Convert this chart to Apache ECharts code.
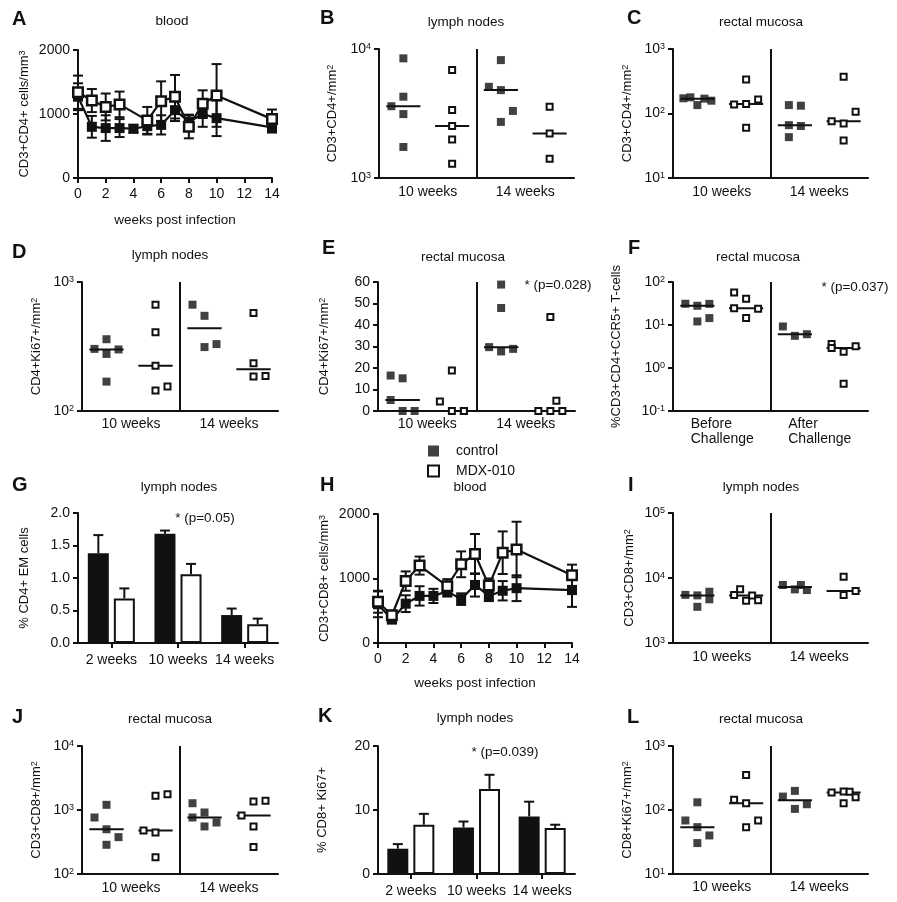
<!DOCTYPE html>
<html><head><meta charset="utf-8">
<script src="https://cdn.jsdelivr.net/npm/echarts@6/dist/echarts.min.js"></script>
<style>html,body{margin:0;padding:0;background:#fff}#c{width:897px;height:902px}</style>
</head><body><div id="c"></div>
<script>
// ---------------- DATA ----------------
// A & H : time courses
const weeks = [0, 1, 2, 3, 4, 5, 6, 7, 8, 9, 10, 14];
const aControl = [1270, 800, 780, 780, 770, 810, 830, 1060, 880, 1000, 935, 790];
const aControlErr = [210, 170, 200, 140, 60, 130, 150, 170, 110, 200, 280, 80];
const aMDX = [1340, 1210, 1110, 1150, null, 900, 1200, 1270, 800, 1160, 1290, 920];
const aMDXErr = [260, 180, 210, 200, null, 210, 310, 340, 180, 210, 490, 150];
const hControl = [600, 365, 610, 730, 730, 800, 680, 900, 730, 810, 850, 820];
const hControlErr = [200, 60, 130, 150, 110, 80, 90, 180, 80, 150, 200, 260];
const hMDX = [640, 430, 960, 1200, null, 880, 1220, 1380, 890, 1400, 1450, 1050];
const hMDXErr = [170, 70, 150, 140, null, 110, 200, 310, 110, 330, 430, 165];

// G & K : bars
const barCats = ['2 weeks', '10 weeks', '14 weeks'];
const gControl = [1.38, 1.68, 0.43];
const gControlErr = [0.28, 0.05, 0.10];
const gMDX = [0.685, 1.057, 0.29];
const gMDXErr = [0.155, 0.16, 0.085];
const kControl = [3.95, 7.27, 9.0];
const kControlErr = [0.72, 0.93, 2.3];
const kMDX = [7.7, 13.3, 7.17];
const kMDXErr = [1.7, 2.2, 0.53];

// scatter panels: values per group (control 10w, MDX 10w, control 14w, MDX 14w)
const weekLabels = ['10 weeks', '14 weeks'];
const challengeLabels = ['Before', 'After'];
const bCtrl10 = [8460, 4270, 3600, 3130, 1740];
const bMDX10 = [6870, 3360, 2535, 1985, 1290];
const bCtrl14 = [8200, 5090, 4800, 3310, 2720];
const bMDX14 = [3565, 2210, 1410];
const cCtrl10 = [172, 178, 135, 170, 158];
const cMDX10 = [337, 138, 140, 165, 60];
const cCtrl14 = [135, 132, 66, 64, 43];
const cMDX14 = [372, 106, 76, 70, 38];
const dCtrl10 = [360, 303, 300, 277, 169];
const dMDX10 = [667, 408, 224, 144, 155];
const dCtrl14 = [667, 547, 313, 330];
const dMDX14 = [574, 235, 185, 187];
const eCtrl10 = [16.5, 15.2, 5.1, 0, 0];
const eMDX10 = [18.8, 4.4, 0, 0, 0];
const eCtrl14 = [58.8, 47.9, 29.7, 27.7, 28.9];
const eMDX14 = [43.7, 0, 0, 4.8, 0];
const fCtrlBefore = [31.2, 28, 31, 12.1, 14.5];
const fMDXBefore = [57, 40.8, 24.5, 23.9, 14.5];
const fCtrlAfter = [9.25, 5.6, 6.1];
const fMDXAfter = [3.6, 2.9, 2.4, 3.2, 0.43];
const iCtrl10 = [5500, 5400, 3600, 6150, 4700];
const iMDX10 = [5500, 6700, 4450, 5400, 4550];
const iCtrl14 = [7800, 6680, 7800, 6520];
const iMDX14 = [10480, 5460, 6300];
const jCtrl10 = [1205, 764, 500, 286, 377];
const jMDX10 = [1663, 1766, 480, 446, 182];
const jCtrl14 = [1276, 914, 764, 553, 638];
const jMDX14 = [1355, 1400, 821, 553, 264];
const lCtrl10 = [132, 68.6, 54, 40, 30.4];
const lMDX10 = [353, 144, 128, 54, 68.6];
const lCtrl14 = [162, 199, 104, 123];
const lMDX14 = [187, 195, 192, 128, 158];

// horizontal spread of overlapping points (pixels, layout only)
const J = {
  b: [[0, 0, -12, 0, 0], [0, 0, 0, 0, 0], [0, -12, 0, 12, 0], [0, 0, 0]],
  c: [[-14, -7, 0, 7, 14], [0, -12, 0, 12, 0], [-6, 6, -6, 6, -6], [0, 12, -12, 0, 0]],
  d: [[0, -12, 12, 0, 0], [0, 0, 0, 0, 12], [-12, 0, 0, 12], [0, 0, 0, 12]],
  e: [[-12, 0, -12, 0, 12], [0, -12, 0, 12, 12], [0, 0, -12, 0, 12], [0, -12, 0, 6, 12]],
  f: [[-12, 0, 12, 0, 12], [-12, 0, -12, 12, 0], [-12, 0, 12], [-12, -12, 0, 12, 0]],
  i: [[-12, 0, 0, 12, 12], [-12, -6, 0, 6, 12], [-12, 0, 6, 12], [0, 0, 12]],
  j: [[0, -12, 0, 0, 12], [0, 12, -12, 0, 0], [-12, 0, -12, 0, 12], [0, 12, -12, 0, 0]],
  l: [[0, -12, 0, 12, 0], [0, -12, 0, 0, 12], [-12, 0, 0, 12], [-12, 0, 6, 0, 12]]
};

// ---------------- BUILD ----------------
const FONT = "'Liberation Sans', Arial, Helvetica, sans-serif";
const INK = '#111';
const grids = [], xAxis = [], yAxis = [], series = [], graphic = [];

const axisLine = {show: true, onZero: false, lineStyle: {color: INK, width: 2}};
const axisTick = {show: true, length: 5, lineStyle: {color: INK, width: 2}};
const supRich = {
  b: {fontSize: 14, fontFamily: FONT, color: INK},
  s: {fontSize: 9, fontFamily: FONT, color: INK, verticalAlign: 'top'}
};
const nameRich = {
  s: {fontSize: 9, fontFamily: FONT, color: INK, verticalAlign: 'top'}
};
function logLabel(v) { const e = Math.round(Math.log10(v)); return '{b|10}{s|' + e + '}'; }
function median(a) {
  const s = a.slice().sort((x, y) => x - y), n = s.length;
  return n % 2 ? s[(n - 1) / 2] : (s[n / 2 - 1] + s[n / 2]) / 2;
}

function makeY(gi, o) {
  const isLog = o.type === 'log';
  return {
    gridIndex: gi, type: o.type || 'value', logBase: 10, min: o.min, max: o.max, interval: o.interval,
    name: o.name, nameLocation: 'middle', nameRotate: 90, nameGap: o.nameGap,
    nameTextStyle: {color: INK, fontSize: 13, fontFamily: FONT, rich: nameRich},
    axisLine, axisTick, splitLine: {show: false}, minorTick: {show: false},
    axisLabel: {color: INK, fontSize: 14, fontFamily: FONT, margin: 8,
      formatter: isLog ? logLabel : (o.fmt || (v => String(v))), rich: supRich}
  };
}

function errSeries(xi, yi, xs, vals, errs, both, off) {
  const data = [];
  xs.forEach((x, i) => { if (vals[i] != null) data.push([x, vals[i], errs[i]]); });
  return {
    type: 'custom', xAxisIndex: xi, yAxisIndex: yi, z: 2, silent: true, clip: false, data,
    renderItem: (params, api) => {
      const x = api.value(0), y = api.value(1), e = api.value(2);
      const hi = api.coord([x, y + e]);
      const lo = both ? api.coord([x, y - e]) : api.coord([x, y]);
      const dx = off || 0, w = 5;
      const st = {stroke: INK, lineWidth: 2};
      const ch = [
        {type: 'line', shape: {x1: hi[0] + dx, y1: hi[1], x2: lo[0] + dx, y2: lo[1]}, style: st},
        {type: 'line', shape: {x1: hi[0] + dx - w, y1: hi[1], x2: hi[0] + dx + w, y2: hi[1]}, style: st}
      ];
      if (both) ch.push({type: 'line', shape: {x1: lo[0] + dx - w, y1: lo[1], x2: lo[0] + dx + w, y2: lo[1]}, style: st});
      return {type: 'group', children: ch};
    }
  };
}

function scatterPanel(box, yOpt, groups, jit, labels, xMargin) {
  const gi = grids.length; grids.push(box);
  const twoLine = labels === challengeLabels;
  xAxis.push({
    gridIndex: gi, type: 'value', min: 0, max: 4, interval: 1,
    axisLine, axisTick: {show: false}, splitLine: {show: false},
    axisLabel: {color: INK, fontSize: 14, fontFamily: FONT, margin: xMargin,
      formatter: v => {
        const t = v === 1 ? labels[0] : v === 3 ? labels[1] : '';
        if (!t) return '';
        return twoLine ? '{l|' + t + '}\n{l|Challenge}' : t;
      },
      rich: {l: {width: 62, align: 'left', fontSize: 14, fontFamily: FONT, color: INK, lineHeight: 15}}
    }
  });
  yAxis.push(makeY(gi, yOpt));
  const xi = xAxis.length - 1, yi = yAxis.length - 1;
  groups.forEach((vals, k) => {
    const c = k + 0.5, med = median(vals);
    const ml = {type: 'line', name: 'median', xAxisIndex: xi, yAxisIndex: yi, silent: true, z: 2,
      symbol: 'none', lineStyle: {color: INK, width: 2}, data: [[c - 0.35, med], [c + 0.35, med]]};
    if (k === 0) ml.markLine = {silent: true, symbol: ['none', 'none'], label: {show: false},
      lineStyle: {color: INK, width: 2, type: 'solid'}, emphasis: {disabled: true}, data: [{xAxis: 2}]};
    series.push(ml);
  });
  groups.forEach((vals, k) => {
    const c = k + 0.5, filled = k % 2 === 0;
    series.push({
      type: 'scatter', name: filled ? 'control' : 'MDX-010', xAxisIndex: xi, yAxisIndex: yi, z: 3, silent: true,
      symbol: 'rect', symbolSize: filled ? 8 : 6,
      itemStyle: filled ? {color: INK, borderWidth: 0} : {color: '#fff', borderColor: INK, borderWidth: 2, opacity: 1},
      data: vals.map((v, i) => ({value: [c, v], symbolOffset: [jit[k][i], 0]}))
    });
  });
}

const lineSeriesQueue = [];
function linePanel(box, yName, nameGap, ctrl, ctrlErr, mdx, mdxErr, xNameGap) {
  const gi = grids.length; grids.push(box);
  xAxis.push({
    gridIndex: gi, type: 'value', min: 0, max: 14, interval: 2,
    name: 'weeks post infection', nameLocation: 'middle', nameGap: xNameGap,
    nameTextStyle: {color: INK, fontSize: 13.5, fontFamily: FONT},
    axisLine, axisTick, splitLine: {show: false},
    axisLabel: {color: INK, fontSize: 14, fontFamily: FONT, margin: 9}
  });
  yAxis.push(makeY(gi, {min: 0, max: 2000, interval: 1000, name: yName, nameGap}));
  const xi = xAxis.length - 1, yi = yAxis.length - 1;
  lineSeriesQueue.push(errSeries(xi, yi, weeks, ctrl, ctrlErr, true));
  lineSeriesQueue.push(errSeries(xi, yi, weeks, mdx, mdxErr, true));
  const pts = arr => weeks.map((w, i) => [w, arr[i]]).filter(p => p[1] != null);
  lineSeriesQueue.push({type: 'line', name: 'ctrl-line', xAxisIndex: xi, yAxisIndex: yi, z: 3, silent: true,
    data: pts(ctrl), symbol: 'rect', symbolSize: 10, showAllSymbol: true,
    itemStyle: {color: INK}, lineStyle: {color: INK, width: 2.2}});
  lineSeriesQueue.push({type: 'line', name: 'mdx-line', xAxisIndex: xi, yAxisIndex: yi, z: 4, silent: true,
    data: pts(mdx), symbol: 'rect', symbolSize: 9.5, showAllSymbol: true,
    itemStyle: {color: '#fff', borderColor: INK, borderWidth: 2.5}, lineStyle: {color: INK, width: 2.2}});
}

function barPanel(box, yOpt, ctrl, ctrlErr, mdx, mdxErr) {
  const gi = grids.length; grids.push(box);
  xAxis.push({
    gridIndex: gi, type: 'category', data: barCats,
    axisLine, axisTick: {show: true, alignWithLabel: true, length: 5, lineStyle: {color: INK, width: 2}},
    axisLabel: {color: INK, fontSize: 14, fontFamily: FONT, margin: 10, interval: 0}
  });
  yAxis.push(makeY(gi, yOpt));
  const xi = xAxis.length - 1, yi = yAxis.length - 1;
  lineSeriesQueue.push({type: 'bar', name: 'ctrl-bar', xAxisIndex: xi, yAxisIndex: yi, barWidth: 21, barGap: '24%',
    silent: true, itemStyle: {color: INK}, data: ctrl});
  lineSeriesQueue.push({type: 'bar', name: 'mdx-bar', xAxisIndex: xi, yAxisIndex: yi, barWidth: 21, barGap: '24%',
    silent: true, itemStyle: {color: '#fff', borderColor: INK, borderWidth: 2}, data: mdx});
  const idx = barCats.map((c, i) => i);
  lineSeriesQueue.push(errSeries(xi, yi, idx, ctrl, ctrlErr, false, -13));
  lineSeriesQueue.push(errSeries(xi, yi, idx, mdx, mdxErr, false, 13));
}

// scatter panels first so the legend picks their symbols
scatterPanel({left: 379, top: 49, width: 195, height: 129},
  {type: 'log', min: 1000, max: 10000, name: 'CD3+CD4+/mm{s|2}', nameGap: 40},
  [bCtrl10, bMDX10, bCtrl14, bMDX14], J.b, weekLabels, 7);
scatterPanel({left: 673, top: 49, width: 195, height: 129},
  {type: 'log', min: 10, max: 1000, name: 'CD3+CD4+/mm{s|2}', nameGap: 39},
  [cCtrl10, cMDX10, cCtrl14, cMDX14], J.c, weekLabels, 7);
scatterPanel({left: 82, top: 282, width: 196, height: 129},
  {type: 'log', min: 100, max: 1000, name: 'CD4+Ki67+/mm{s|2}', nameGap: 39},
  [dCtrl10, dMDX10, dCtrl14, dMDX14], J.d, weekLabels, 6);
scatterPanel({left: 378, top: 282, width: 197, height: 129},
  {min: 0, max: 60, interval: 10, name: 'CD4+Ki67+/mm{s|2}', nameGap: 47},
  [eCtrl10, eMDX10, eCtrl14, eMDX14], J.e, weekLabels, 6);
scatterPanel({left: 673, top: 282, width: 195, height: 129},
  {type: 'log', min: 0.1, max: 100, name: '%CD3+CD4+CCR5+ T-cells', nameGap: 50},
  [fCtrlBefore, fMDXBefore, fCtrlAfter, fMDXAfter], J.f, challengeLabels, 6);
scatterPanel({left: 673, top: 513, width: 195, height: 130},
  {type: 'log', min: 1000, max: 100000, name: 'CD3+CD8+/mm{s|2}', nameGap: 37},
  [iCtrl10, iMDX10, iCtrl14, iMDX14], J.i, weekLabels, 7);
scatterPanel({left: 82, top: 746, width: 196, height: 128},
  {type: 'log', min: 100, max: 10000, name: 'CD3+CD8+/mm{s|2}', nameGap: 39},
  [jCtrl10, jMDX10, jCtrl14, jMDX14], J.j, weekLabels, 7);
scatterPanel({left: 673, top: 746, width: 195, height: 128},
  {type: 'log', min: 10, max: 1000, name: 'CD8+Ki67+/mm{s|2}', nameGap: 39},
  [lCtrl10, lMDX10, lCtrl14, lMDX14], J.l, weekLabels, 6);

linePanel({left: 78, top: 50, width: 194, height: 128}, 'CD3+CD4+ cells/mm{s|3}', 47,
  aControl, aControlErr, aMDX, aMDXErr, 35);
linePanel({left: 378, top: 514, width: 194, height: 129}, 'CD3+CD8+ cells/mm{s|3}', 47,
  hControl, hControlErr, hMDX, hMDXErr, 33);
barPanel({left: 78, top: 513, width: 200, height: 130},
  {min: 0, max: 2, interval: 0.5, name: '% CD4+ EM cells', nameGap: 47, fmt: v => v.toFixed(1)},
  gControl, gControlErr, gMDX, gMDXErr);
barPanel({left: 378, top: 746, width: 197, height: 128},
  {min: 0, max: 20, interval: 10, name: '% CD8+ Ki67+', nameGap: 49},
  kControl, kControlErr, kMDX, kMDXErr);
series.push(...lineSeriesQueue);

// texts
function txt(x, y, text, size, bold, align) {
  graphic.push({type: 'text', x, y, silent: true, style: {
    text, fill: INK, font: (bold ? 'bold ' : '') + size + 'px ' + FONT,
    align: align || 'center', verticalAlign: 'middle',
    textAlign: align || 'center', textVerticalAlign: 'middle'}});
}
const letters = [['A', 12, 19], ['B', 320, 18], ['C', 627, 18], ['D', 12, 252], ['E', 322, 248], ['F', 628, 248],
  ['G', 12, 485], ['H', 320, 485], ['I', 628, 485], ['J', 12, 717], ['K', 318, 716], ['L', 627, 717]];
letters.forEach(l => txt(l[1], l[2], l[0], 20, true, 'left'));
const panelTitles = [['blood', 172, 21], ['lymph nodes', 466, 22], ['rectal mucosa', 761, 22],
  ['lymph nodes', 170, 255], ['rectal mucosa', 463, 257], ['rectal mucosa', 758, 257],
  ['lymph nodes', 179, 487], ['blood', 470, 487], ['lymph nodes', 761, 487],
  ['rectal mucosa', 170, 719], ['lymph nodes', 475, 718], ['rectal mucosa', 761, 719]];
panelTitles.forEach(t => txt(t[1], t[2], t[0], 13.5, false));
const notes = [['* (p=0.028)', 558, 285], ['* (p=0.037)', 855, 287], ['* (p=0.05)', 205, 518], ['* (p=0.039)', 505, 752]];
notes.forEach(t => txt(t[1], t[2], t[0], 13.5, false));

const chart = echarts.init(document.getElementById('c'), null, {renderer: 'canvas'});
chart.setOption({
  animation: false,
  backgroundColor: '#fff',
  grid: grids.map(g => Object.assign({containLabel: false}, g)),
  xAxis, yAxis, series, graphic,
  legend: {
    left: 422, top: 439, orient: 'vertical', itemWidth: 11, itemHeight: 11, itemGap: 6,
    selectedMode: false,
    textStyle: {color: INK, fontSize: 14, fontFamily: FONT, padding: [0, 0, 0, 12]},
    data: [
      {name: 'control', icon: 'rect', itemStyle: {color: INK, borderWidth: 0}},
      {name: 'MDX-010', icon: 'rect', itemStyle: {color: '#fff', borderColor: INK, borderWidth: 2}}
    ]
  }
});
</script></body></html>
